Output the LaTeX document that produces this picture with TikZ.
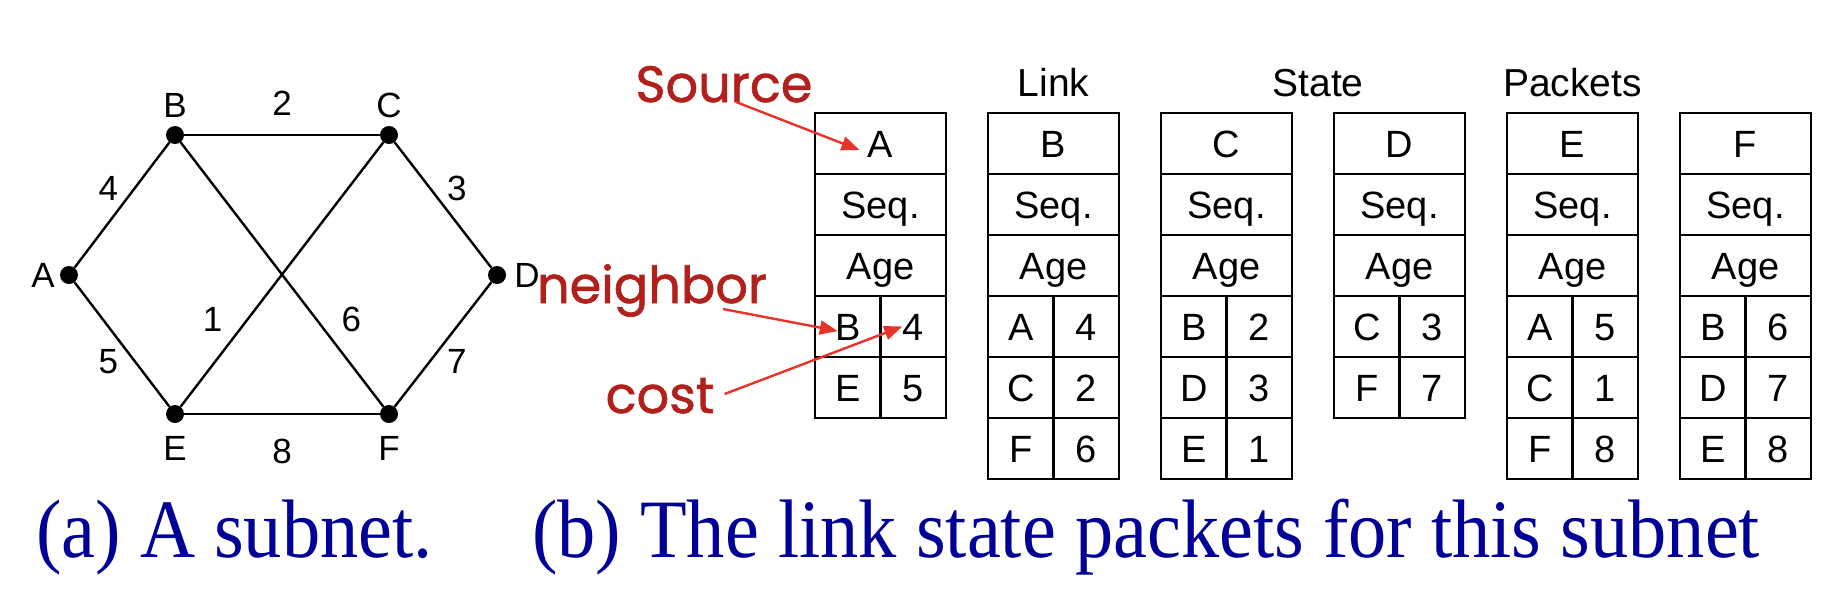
\documentclass[tikz,border=0pt]{standalone}
\usepackage{fontspec}
\setmainfont{Liberation Sans}
\newfontfamily\capfont[FakeStretch=0.92]{Liberation Serif}
\newfontfamily\notefont[FakeBold=1.2]{Poppins}
\usetikzlibrary{positioning,calc,arrows.meta}
\definecolor{capblue}{RGB}{0,0,150}
\definecolor{notered}{RGB}{178,32,28}
\definecolor{arrowred}{RGB}{232,52,40}
\tikzset{
	cell/.style={draw, line width=2.4pt, minimum width=131pt, minimum height=61pt,
		inner sep=0pt, outer sep=0pt, font=\fontsize{38}{40}\selectfont,
		text height=27pt, text depth=0pt},
	half/.style={cell, minimum width=65.5pt},
	dot/.style={circle, fill, minimum size=18pt, inner sep=0pt},
	edge/.style={line width=2.4pt},
	nlabel/.style={font=\fontsize{35}{36}\selectfont, inner sep=0pt,
		text height=25pt, text depth=0pt},
	head/.style={font=\fontsize{39}{40}\selectfont, inner sep=0pt, text depth=0pt},
	note/.style={font=\notefont\fontsize{51}{52}\selectfont, text=notered, inner sep=0pt},
	pointer/.style={draw=arrowred, line width=2.4pt, -{Triangle[length=18pt,width=14pt]}},
	caption/.style={font=\capfont\fontsize{83}{90}\selectfont, text=capblue, inner sep=0pt}
}
\newcommand{\packet}[4]{%
\node [cell, #2] (#1) {#3};
\node [cell, below=0pt of #1] (#1s) {Seq.};
\node [cell, below=0pt of #1s] (#1a) {Age};
\foreach \nb/\cs [count=\i] in {#4} {
	\node [half, anchor=north west] (#1n\i) at ([yshift=61pt-\i*61pt] #1a.south west) {\nb};
	\node [half, right=0pt of #1n\i] (#1c\i) {\cs};
}%
}

\begin{document}
\begin{tikzpicture}[x=1pt, y=-1pt]
\useasboundingbox (0,0) rectangle (1836,600);

% Subnet
\node [dot, label={[nlabel, label distance=5pt]left:A}] (A) at (69,275) {};
\node [dot, label={[nlabel, label distance=8pt]above:B}] (B) at (175,135) {};
\node [dot, label={[nlabel, label distance=8pt]above:C}] (C) at (389,135) {};
\node [dot, label={[nlabel, label distance=8pt]right:D}] (D) at (497,275) {};
\node [dot, label={[nlabel, label distance=12pt]below:E}] (E) at (175,414) {};
\node [dot, label={[nlabel, label distance=12pt]below:F}] (F) at (389,414) {};

\draw [edge] (A) -- node [nlabel, above left=4pt] {4} (B);
\draw [edge] (B) -- node [nlabel, above=18pt] {2} (C);
\draw [edge] (C) -- node [nlabel, above right=4pt] {3} (D);
\draw [edge] (A) -- node [nlabel, below left=4pt] {5} (E);
\draw [edge] (D) -- node [nlabel, below right=4pt] {7} (F);
\draw [edge] (E) -- node [nlabel, below=23pt] {8} (F);
\draw [edge] (E) -- node [nlabel, pos=0.33, left=24pt] {1} (C);
\draw [edge] (B) -- node [nlabel, pos=0.67, right=24pt] {6} (F);

% Link state packets
\packet{pA}{anchor=north west, at={(815,113)}}{A}{B/4,E/5}
\packet{pB}{right=42pt of pA}{B}{A/4,C/2,F/6}
\packet{pC}{right=42pt of pB}{C}{B/2,D/3,E/1}
\packet{pD}{right=42pt of pC}{D}{C/3,F/7}
\packet{pE}{right=42pt of pD}{E}{A/5,C/1,F/8}
\packet{pF}{right=42pt of pE}{F}{B/6,D/7,E/8}

\node [head, above=16pt of pB] (lnk) {Link};
\node [head, anchor=south, yshift=16pt, xshift=5pt] (stt) at ($(pC.north)!0.5!(pD.north)$) {State};
\node [head, above=16pt of pE] (pkt) {Packets};

% Notes
\node [note, anchor=base] (src) at (724,102) {Source};
\node [note, anchor=base] (nbr) at (652,303) {neighbor};
\node [note, anchor=base] (cst) at (660,413) {cost};
\draw [pointer] ([xshift=12pt]src.base) -- ([xshift=-21pt,yshift=-6.5pt]pA.center);
\draw [pointer] ([xshift=71pt,yshift=-6pt]nbr.base) -- ([xshift=-10pt,yshift=-4.5pt]pAn1.center);
\draw [pointer] ([xshift=10pt,yshift=19pt]cst.base east) -- ([xshift=-11pt]pAc1.center);

% Captions
\node [caption, anchor=base west] (capa) at (36,557) {(a) A subnet.};
\node [caption, anchor=base west] (capb) at (532,557) {(b) The link state packets for this subnet};

\end{tikzpicture}
\end{document}
